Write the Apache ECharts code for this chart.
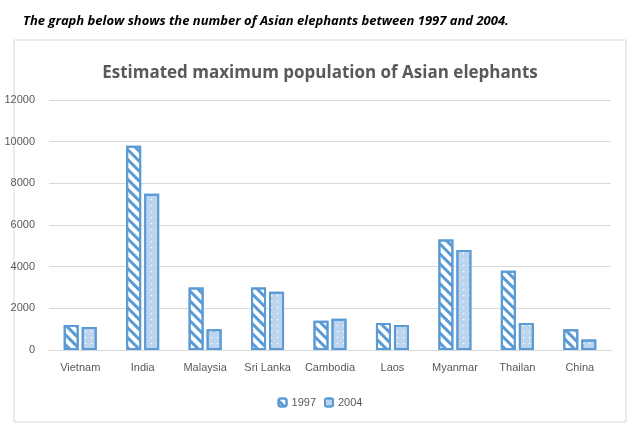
<!DOCTYPE html>
<html><head><meta charset="utf-8">
<script src="https://cdn.jsdelivr.net/npm/echarts@6/dist/echarts.min.js"></script>
<style>body{margin:0;background:#fff}#main{width:640px;height:431px}</style>
</head><body><div id="main"></div>
<script>
var categories = ['Vietnam', 'India', 'Malaysia', 'Sri Lanka', 'Cambodia', 'Laos', 'Myanmar', 'Thailan', 'China'];
var values1997 = [1200, 9800, 3000, 3000, 1400, 1300, 5300, 3800, 1000];
var values2004 = [1100, 7500, 1000, 2800, 1500, 1200, 4800, 1300, 500];

var myChart = echarts.init(document.getElementById('main'));
var option = {
    backgroundColor: '#fff',
    graphic: [{
        type: 'rect', shape: { x: 14, y: 40, width: 612, height: 382 },
        style: { fill: 'none', stroke: '#d9d9d9', lineWidth: 1 }
    }],
    title: [{
        text: 'The graph below shows the number of Asian elephants between 1997 and 2004.',
        left: 18, top: 10,
        textStyle: { fontSize: 13, fontWeight: 'bold', fontStyle: 'italic', color: '#000', fontFamily: 'Open Sans' }
    }, {
        text: 'Estimated maximum population of Asian elephants',
        left: 'center', top: 60,
        textStyle: { fontSize: 17, fontWeight: 'bold', color: '#595959', fontFamily: 'Open Sans' }
    }],
    legend: {
        bottom: 18, left: 'center', itemWidth: 8, itemHeight: 8,
        textStyle: { color: '#595959', fontSize: 11 },
        data: ['1997', '2004']
    },
    grid: { left: 49, right: 29, top: 100, bottom: 81 },
    xAxis: {
        type: 'category', data: categories,
        axisLine: { lineStyle: { color: '#d9d9d9' } },
        axisTick: { show: false },
        axisLabel: { color: '#595959', fontSize: 11, interval: 0, margin: 12 }
    },
    yAxis: {
        type: 'value', min: 0, max: 12000, interval: 2000,
        axisLabel: { color: '#595959', fontSize: 11, margin: 14, formatter: function (v) { return String(v); } },
        splitLine: { lineStyle: { color: '#d9d9d9' } }
    },
    series: [{
        name: '1997', type: 'bar', data: values1997, barWidth: 15, barGap: '20%',
        itemStyle: {
            color: '#fff', borderColor: '#5b9bd5', borderWidth: 2,
            decal: { symbol: 'rect', color: '#5b9bd5', dashArrayX: [1, 0], dashArrayY: [3, 4], rotation: Math.PI / 4 }
        }
    }, {
        name: '2004', type: 'bar', data: values2004, barWidth: 15,
        itemStyle: {
            color: '#bcd4ee', borderColor: '#5b9bd5', borderWidth: 2,
            decal: { symbol: 'circle', color: '#ffffff', symbolSize: 0.5, dashArrayX: [[3, 3]], dashArrayY: [3, 3] }
        }
    }]
};
myChart.setOption(option);
</script></body></html>
